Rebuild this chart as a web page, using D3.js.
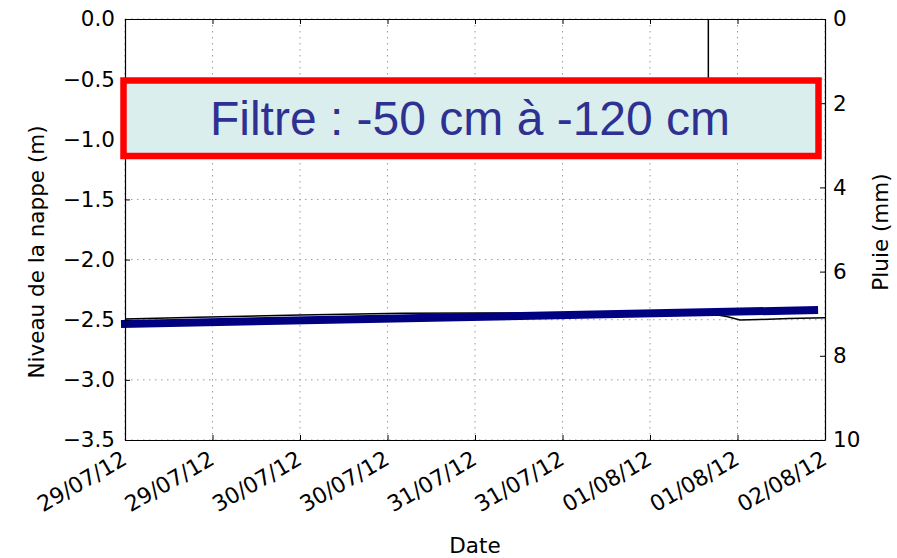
<!DOCTYPE html>
<html>
<head>
<meta charset="utf-8">
<script src="https://cdn.jsdelivr.net/npm/d3@7"></script>
<style>
  html, body { margin: 0; padding: 0; background: #fff; }
  svg { display: block; }
  text { font-family: "DejaVu Sans", sans-serif; fill: #000; }
</style>
</head>
<body>
<svg id="chart" width="897" height="558"></svg>
<script>
// Groundwater level (m), measured series
const levelTimes = [
  "2012-07-29T00:00", "2012-07-29T10:00", "2012-07-30T00:00", "2012-07-30T14:00",
  "2012-07-31T00:00", "2012-07-31T12:00", "2012-08-01T00:00", "2012-08-01T09:30",
  "2012-08-01T10:40", "2012-08-01T12:20", "2012-08-01T15:00", "2012-08-01T19:00",
  "2012-08-02T00:00"
];
const levelValues = [
  -2.495, -2.480, -2.460, -2.447,
  -2.445, -2.445, -2.450, -2.462,
  -2.476, -2.502, -2.498, -2.490,
  -2.483
];

// Filtered trend of the water level (m)
const trendTimes = ["2012-07-29T00:00", "2012-08-01T22:30"];
const trendValues = [-2.535, -2.420];

// Rainfall events (mm)
const rainTimes = ["2012-08-01T08:00"];
const rainValues = [1.6];

// Axis ticks
const levelTicks = [0.0, -0.5, -1.0, -1.5, -2.0, -2.5, -3.0, -3.5];
const rainTicks = [0, 2, 4, 6, 8, 10];
const dateDomain = ["2012-07-29T00:00", "2012-08-02T00:00"];

const parse = d3.utcParse("%Y-%m-%dT%H:%M");
const fmt = d3.utcFormat("%d/%m/%y");

const svg = d3.select("#chart");
const plotLeft = 125, plotRight = 825, plotTop = 19, plotBottom = 440;

const x = d3.scaleUtc().domain(dateDomain.map(parse)).range([plotLeft, plotRight]);
const yL = d3.scaleLinear().domain([-3.5, 0]).range([plotBottom, plotTop]);
const yR = d3.scaleLinear().domain([0, 10]).range([plotTop, plotBottom]);

const xTicks = x.ticks(d3.utcHour.every(12));

// Dotted grid
const grid = svg.append("g").attr("stroke", "#9a9a9a").attr("stroke-width", 1)
  .attr("stroke-dasharray", "1.5,4.5");
grid.selectAll("line.v").data(xTicks).join("line").attr("class", "v")
  .attr("x1", d => x(d)).attr("x2", d => x(d))
  .attr("y1", plotTop).attr("y2", plotBottom);
grid.selectAll("line.h").data(levelTicks).join("line").attr("class", "h")
  .attr("x1", plotLeft).attr("x2", plotRight)
  .attr("y1", d => yL(d)).attr("y2", d => yL(d));

// Measured water level
const level = levelTimes.map((t, i) => ({ t: parse(t), v: levelValues[i] }));
svg.append("path").datum(level)
  .attr("fill", "none").attr("stroke", "#000").attr("stroke-width", 1.5)
  .attr("d", d3.line().x(d => x(d.t)).y(d => yL(d.v)));

// Filtered trend
const trend = trendTimes.map((t, i) => ({ t: parse(t), v: trendValues[i] }));
svg.append("path").datum(trend)
  .attr("fill", "none").attr("stroke", "#000080").attr("stroke-width", 8)
  .attr("stroke-linecap", "square")
  .attr("d", d3.line().x(d => x(d.t)).y(d => yL(d.v)));

// Rainfall, hanging from the top axis
svg.append("g").selectAll("line").data(rainTimes.map((t, i) => ({ t: parse(t), v: rainValues[i] })))
  .join("line")
  .attr("x1", d => x(d.t)).attr("x2", d => x(d.t))
  .attr("y1", yR(0)).attr("y2", d => yR(d.v))
  .attr("stroke", "#000").attr("stroke-width", 1.5);

// Axes
const fontSize = 21.5;
const axL = svg.append("g").attr("transform", `translate(${plotLeft},0)`)
  .call(d3.axisLeft(yL).tickValues(levelTicks).tickSizeInner(-5).tickSizeOuter(0)
    .tickPadding(10).tickFormat(d => d3.format(".1f")(d).replace("-", "\u2212")));
const axR = svg.append("g").attr("transform", `translate(${plotRight},0)`)
  .call(d3.axisRight(yR).tickValues(rainTicks).tickSizeInner(-5).tickSizeOuter(0)
    .tickPadding(8).tickFormat(d3.format("d")));
const axB = svg.append("g").attr("transform", `translate(0,${plotBottom})`)
  .call(d3.axisBottom(x).tickValues(xTicks).tickSizeInner(-5).tickSizeOuter(0)
    .tickPadding(6).tickFormat(fmt));
const axT = svg.append("g").attr("transform", `translate(0,${plotTop})`)
  .call(d3.axisTop(x).tickValues(xTicks).tickSizeInner(-5).tickSizeOuter(0).tickFormat(""));

[axL, axR, axB, axT].forEach(a => {
  a.select(".domain").attr("stroke", "#000").attr("stroke-width", 1.2);
  a.selectAll(".tick line").attr("stroke", "#000");
  a.selectAll("text").attr("font-size", fontSize);
});

axB.selectAll(".tick text")
  .attr("font-size", 22)
  .attr("text-anchor", "end")
  .attr("dy", 0)
  .attr("transform", "translate(0,18) rotate(-30)");

// Axis titles
svg.append("text").attr("x", 475).attr("y", 553).attr("text-anchor", "middle")
  .attr("font-size", fontSize).text("Date");
svg.append("text").attr("transform", "translate(44,252) rotate(-90)")
  .attr("text-anchor", "middle").attr("font-size", fontSize).text("Niveau de la nappe (m)");
svg.append("text").attr("transform", "translate(888,232) rotate(-90)")
  .attr("text-anchor", "middle").attr("font-size", fontSize).text("Pluie (mm)");

// Filter banner
svg.append("rect").attr("x", 123.5).attr("y", 80.5).attr("width", 695).attr("height", 75.5)
  .attr("fill", "#dbeeee").attr("stroke", "#ff0000").attr("stroke-width", 6.5);
svg.append("text").attr("x", 470).attr("y", 135).attr("text-anchor", "middle")
  .style("font-family", "'Liberation Sans', Arial, sans-serif").attr("font-size", 48)
  .style("fill", "#2e3192").text("Filtre : -50 cm à -120 cm");
</script>
</body>
</html>
